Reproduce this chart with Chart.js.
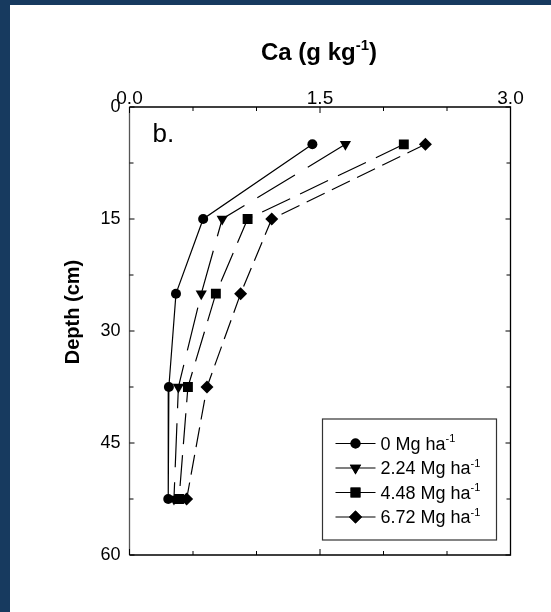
<!DOCTYPE html>
<html>
<head>
<meta charset="utf-8">
<script src="https://cdn.jsdelivr.net/npm/chart.js@4/dist/chart.umd.min.js"></script>
<style>
  html, body { margin: 0; padding: 0; }
  body { width: 551px; height: 612px; background: #173a5f; overflow: hidden; position: relative; }
  #wrap { position: absolute; left: 10px; top: 5px; width: 541px; height: 607px; background: #fff; }
</style>
</head>
<body>
<div id="wrap"><canvas id="caChart" width="541" height="607"></canvas></div>
<script>
// Ca concentration by depth, four application rates
const depths = [5, 15, 25, 37.5, 52.5];
const rateLabels = ['0 Mg ha', '2.24 Mg ha', '4.48 Mg ha', '6.72 Mg ha'];
const ca0 = [1.44, 0.58, 0.366, 0.31, 0.305];
const ca224 = [1.70, 0.73, 0.565, 0.385, 0.35];
const ca448 = [2.16, 0.93, 0.68, 0.46, 0.39];
const ca672 = [2.33, 1.12, 0.875, 0.61, 0.45];
const xTickLabels = [0, 1.5, 3.0];
const yTickLabels = [0, 15, 30, 45, 60];

const fontFamily = "'Liberation Sans', Arial, sans-serif";

const toPoints = function (values) {
    let pts = [];
    for (var i = 0; i < depths.length; i++) {
        pts.push({x: values[i], y: depths[i]})
    }
    return pts
};

const makeSeries = function (label, values, style, radius, dash, rotation) {
    return {
        label: label,
        data: toPoints(values),
        showLine: true,
        borderColor: '#000',
        borderWidth: 1.2,
        borderDash: dash,
        backgroundColor: '#000',
        pointStyle: style,
        pointRadius: radius,
        pointRotation: rotation || 0,
        pointBorderWidth: 0,
        pointBackgroundColor: '#000'
    }
};

// superscripted unit text: base + "-1"
function drawUnitText(ctx, base, x, y, size, bold, align) {
    const w = bold ? 'bold ' : '';
    const supSize = Math.round(size * 0.62);
    ctx.font = w + size + 'px ' + fontFamily;
    const wb = ctx.measureText(base).width;
    ctx.font = w + supSize + 'px ' + fontFamily;
    const ws = ctx.measureText('-1').width;
    ctx.font = w + size + 'px ' + fontFamily;
    const wc = align === 'center' ? ctx.measureText(')').width : 0;
    let x0 = x;
    if (align === 'center') x0 = x - (wb + ws + wc) / 2;
    ctx.textAlign = 'left';
    ctx.textBaseline = 'alphabetic';
    ctx.fillText(base, x0, y);
    ctx.font = w + supSize + 'px ' + fontFamily;
    ctx.fillText('-1', x0 + wb, y - size * 0.4);
    if (align === 'center') {
        ctx.font = w + size + 'px ' + fontFamily;
        ctx.fillText(')', x0 + wb + ws, y);
    }
}

const framePlugin = {
    id: 'frame',
    afterDatasetsDraw(chart) {
        const ctx = chart.ctx;
        const a = chart.chartArea;
        const xs = chart.scales.x, ys = chart.scales.y;
        ctx.save();
        ctx.lineWidth = 1.3;
        ctx.strokeStyle = '#000';
        ctx.beginPath();
        ctx.moveTo(a.left, a.top); ctx.lineTo(a.right, a.top);
        ctx.lineTo(a.right, a.bottom); ctx.lineTo(a.left, a.bottom);
        ctx.stroke();
        ctx.strokeStyle = '#555';
        ctx.beginPath();
        ctx.moveTo(a.left, a.top); ctx.lineTo(a.left, a.bottom);
        ctx.stroke();

        // inward tick marks on all four sides
        ctx.strokeStyle = '#000';
        ctx.lineWidth = 1;
        ctx.beginPath();
        xs.ticks.forEach(t => {
            const px = xs.getPixelForValue(t.value);
            const len = xTickLabels.includes(t.value) ? 6 : 4;
            ctx.moveTo(px, a.top); ctx.lineTo(px, a.top + len);
            ctx.moveTo(px, a.bottom); ctx.lineTo(px, a.bottom - len);
        });
        ys.ticks.forEach(t => {
            const py = ys.getPixelForValue(t.value);
            const len = yTickLabels.includes(t.value) ? 5 : 4;
            ctx.moveTo(a.left, py); ctx.lineTo(a.left + len, py);
            ctx.moveTo(a.right, py); ctx.lineTo(a.right - len, py);
        });
        ctx.stroke();

        ctx.fillStyle = '#000';
        // axis titles
        drawUnitText(ctx, 'Ca (g kg', (a.left + a.right) / 2 - 1, 55, 24, true, 'center');
        ctx.save();
        ctx.translate(69, 307);
        ctx.rotate(-Math.PI / 2);
        ctx.font = 'bold 20px ' + fontFamily;
        ctx.textAlign = 'center';
        ctx.textBaseline = 'alphabetic';
        ctx.fillText('Depth (cm)', 0, 0);
        ctx.restore();

        // panel letter
        ctx.font = '26px ' + fontFamily;
        ctx.textAlign = 'left';
        ctx.fillText('b.', a.left + 23, a.top + 35);

        // legend box
        const bx = a.right - 188, by = a.bottom - 136, bw = 174, bh = 121;
        ctx.fillStyle = '#fff';
        ctx.fillRect(bx, by, bw, bh);
        ctx.strokeStyle = '#333';
        ctx.lineWidth = 1.2;
        ctx.strokeRect(bx, by, bw, bh);
        chart.data.datasets.forEach((ds, i) => {
            const ry = by + 24.5 + i * 24.5;
            ctx.strokeStyle = '#000';
            ctx.lineWidth = 1.2;
            ctx.beginPath();
            ctx.moveTo(bx + 13, ry); ctx.lineTo(bx + 53, ry);
            ctx.stroke();
            ctx.fillStyle = '#000';
            Chart.helpers.drawPoint(ctx, {
                pointStyle: ds.pointStyle, radius: ds.pointRadius,
                rotation: ds.pointRotation, borderWidth: 0
            }, bx + 33, ry);
            ctx.fill();
            drawUnitText(ctx, ds.label, bx + 58, ry + 6, 18, false, 'left');
        });
        ctx.restore();
    }
};

new Chart(document.getElementById('caChart'), {
    type: 'scatter',
    data: {
        datasets: [
            makeSeries(rateLabels[0], ca0, 'circle', 5, []),
            makeSeries(rateLabels[1], ca224, 'triangle', 6.5, [44, 15], 180),
            makeSeries(rateLabels[2], ca448, 'rect', 7, [31, 11]),
            makeSeries(rateLabels[3], ca672, 'rectRot', 6.5, [20, 8])
        ]
    },
    options: {
        responsive: false,
        animation: false,
        layout: {padding: {left: 0, top: 0, right: 40.5, bottom: 57}},
        plugins: {legend: {display: false}, tooltip: {enabled: false}},
        scales: {
            x: {
                type: 'linear', position: 'top', min: 0, max: 3,
                grid: {display: false, drawTicks: false},
                border: {display: false},
                ticks: {
                    stepSize: 0.5, autoSkip: false, maxRotation: 0, padding: -3,
                    color: '#000', font: {family: fontFamily, size: 19},
                    callback: v => xTickLabels.includes(v) ? v.toFixed(1) : ''
                },
                afterFit: s => { s.height = 102; }
            },
            y: {
                type: 'linear', reverse: true, min: 0, max: 60,
                grid: {display: false, drawTicks: false},
                border: {display: false},
                ticks: {
                    stepSize: 7.5, autoSkip: false, padding: 9,
                    color: '#000', font: {family: fontFamily, size: 18},
                    callback: v => yTickLabels.includes(v) ? String(v) : ''
                },
                afterFit: s => { s.width = 119.5; }
            }
        }
    },
    plugins: [framePlugin]
});
</script>
</body>
</html>
